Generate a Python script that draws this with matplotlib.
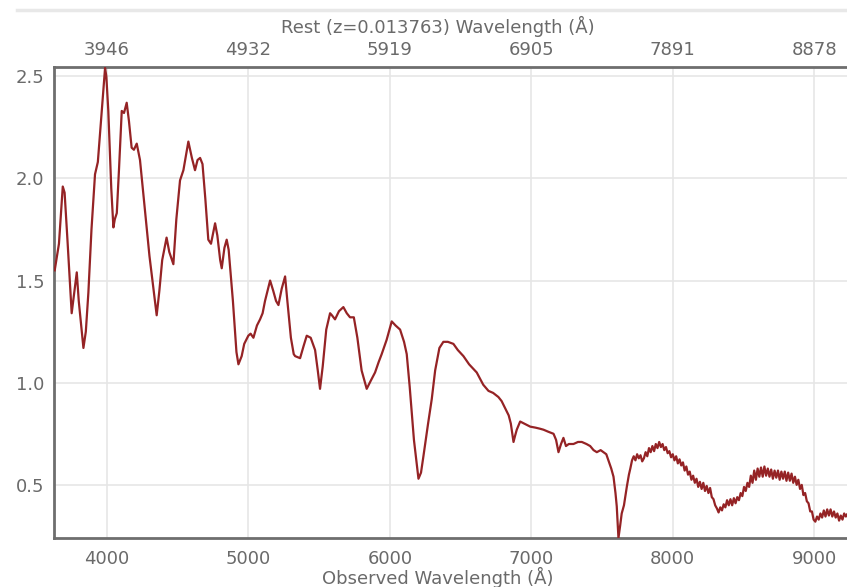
import matplotlib
matplotlib.use("Agg")
import matplotlib.pyplot as plt
from matplotlib.lines import Line2D

# ---- data ----
redshift = 0.013763
obs_ticks = [4000, 5000, 6000, 7000, 8000, 9000]
flux_ticks = [0.5, 1.0, 1.5, 2.0, 2.5]

wavelength = [
    3630, 3660, 3687, 3700, 3720, 3750, 3770, 3786, 3800, 3833, 3850, 3868, 3890, 3915, 3935,
    3972, 3986, 3995, 4009, 4030, 4045, 4055, 4069, 4085, 4104, 4120, 4139, 4155, 4174, 4190,
    4210, 4233, 4260, 4300, 4330, 4351, 4370, 4390, 4421, 4440, 4469, 4490, 4516, 4540, 4560,
    4575, 4600, 4622, 4640, 4658, 4675, 4695, 4716, 4735, 4764, 4780, 4800, 4811, 4830, 4846,
    4860, 4890, 4915, 4929, 4952, 4970, 4999, 5015, 5035, 5060, 5082, 5100, 5117, 5135, 5153,
    5175, 5195, 5212, 5235, 5259, 5275, 5300, 5320, 5330, 5365, 5390, 5412, 5440, 5471, 5490,
    5506, 5525, 5550, 5577, 5590, 5612, 5640, 5671, 5695, 5718, 5745, 5770, 5800, 5836, 5865,
    5895, 5920, 5942, 5977, 6013, 6040, 6072, 6100, 6119, 6140, 6170, 6202, 6220, 6237, 6270,
    6296, 6320, 6350, 6378, 6410, 6449, 6480, 6520, 6560, 6614, 6660, 6697, 6730, 6767, 6790,
    6815, 6840, 6855, 6874, 6885, 6897, 6921, 6950, 6992, 7030, 7060, 7086, 7120, 7157, 7175,
    7192, 7210, 7227, 7245, 7265, 7298, 7330, 7357, 7390, 7416, 7440, 7463, 7490, 7510, 7530,
    7545, 7565, 7581, 7595, 7604, 7616, 7628, 7639, 7655, 7675, 7690,
    7700, 7712, 7724, 7736, 7748, 7760, 7772, 7784, 7796, 7808, 7820, 7832, 7844, 7856, 7868,
    7880, 7892, 7904, 7916, 7928, 7940, 7952, 7964, 7976, 7988, 8000, 8012, 8024, 8036, 8048,
    8060, 8072, 8084, 8096, 8108, 8120, 8132, 8144, 8156, 8168, 8180, 8192, 8204, 8216, 8228,
    8240, 8252, 8264, 8276, 8288, 8300, 8312, 8324, 8336, 8348, 8360, 8372, 8384, 8396, 8408,
    8420, 8432, 8444, 8456, 8468, 8480, 8492, 8504, 8516, 8528, 8540, 8552, 8564, 8576, 8588,
    8600, 8612, 8624, 8636, 8648, 8660, 8672, 8684, 8696, 8708, 8720, 8732, 8744, 8756, 8768,
    8780, 8792, 8804, 8816, 8828, 8840, 8852, 8864, 8876, 8888, 8900, 8912, 8924, 8936, 8948,
    8960, 8972, 8984, 8996, 9008, 9020, 9032, 9044, 9056, 9068, 9080, 9092, 9104, 9116, 9128,
    9140, 9152, 9164, 9176, 9188, 9200, 9212, 9224, 9232,
]

flux = [
    1.55, 1.68, 1.96, 1.93, 1.70, 1.34, 1.45, 1.54, 1.40, 1.17, 1.25, 1.44, 1.75, 2.02, 2.08,
    2.41, 2.54, 2.50, 2.33, 1.95, 1.76, 1.80, 1.83, 2.05, 2.33, 2.32, 2.37, 2.28, 2.15, 2.14,
    2.17, 2.09, 1.90, 1.62, 1.45, 1.33, 1.45, 1.60, 1.71, 1.64, 1.58, 1.80, 1.99, 2.04, 2.12,
    2.18, 2.10, 2.04, 2.09, 2.10, 2.07, 1.90, 1.70, 1.68, 1.78, 1.72, 1.60, 1.56, 1.66, 1.70,
    1.65, 1.40, 1.15, 1.09, 1.13, 1.19, 1.23, 1.24, 1.22, 1.28, 1.31, 1.34, 1.40, 1.45, 1.50,
    1.45, 1.40, 1.38, 1.46, 1.52, 1.40, 1.22, 1.14, 1.13, 1.12, 1.18, 1.23, 1.22, 1.16, 1.06,
    0.97, 1.08, 1.26, 1.34, 1.33, 1.31, 1.35, 1.37, 1.34, 1.32, 1.32, 1.22, 1.06, 0.97, 1.01,
    1.05, 1.10, 1.14, 1.21, 1.30, 1.28, 1.26, 1.20, 1.14, 0.98, 0.72, 0.53, 0.56, 0.64, 0.80,
    0.92, 1.06, 1.17, 1.20, 1.20, 1.19, 1.16, 1.13, 1.09, 1.05, 0.99, 0.96, 0.95, 0.93, 0.91,
    0.875, 0.84, 0.80, 0.71, 0.74, 0.77, 0.81, 0.80, 0.785, 0.78, 0.775, 0.77, 0.76, 0.75, 0.72,
    0.66, 0.70, 0.73, 0.69, 0.70, 0.70, 0.71, 0.71, 0.70, 0.69, 0.67, 0.66, 0.67, 0.66, 0.65,
    0.62, 0.58, 0.54, 0.46, 0.395, 0.24, 0.30, 0.36, 0.40, 0.49, 0.55,
    0.58, 0.62, 0.64, 0.62, 0.65, 0.63, 0.645, 0.615, 0.63, 0.66, 0.64, 0.68, 0.66, 0.69, 0.665,
    0.70, 0.68, 0.71, 0.685, 0.70, 0.67, 0.685, 0.655, 0.665, 0.635, 0.65, 0.62, 0.64, 0.605, 0.625,
    0.595, 0.61, 0.57, 0.59, 0.55, 0.565, 0.525, 0.545, 0.51, 0.53, 0.49, 0.515, 0.48, 0.51, 0.47,
    0.495, 0.46, 0.485, 0.44, 0.43, 0.40, 0.385, 0.365, 0.39, 0.375, 0.405, 0.39, 0.425, 0.40, 0.43,
    0.40, 0.435, 0.41, 0.44, 0.425, 0.46, 0.445, 0.49, 0.47, 0.51, 0.49, 0.545, 0.51, 0.57, 0.525,
    0.58, 0.54, 0.585, 0.54, 0.59, 0.545, 0.58, 0.54, 0.575, 0.53, 0.57, 0.535, 0.57, 0.525, 0.565,
    0.53, 0.565, 0.52, 0.56, 0.52, 0.555, 0.51, 0.54, 0.50, 0.525, 0.48, 0.50, 0.45, 0.46, 0.42,
    0.41, 0.37, 0.37, 0.33, 0.32, 0.345, 0.33, 0.36, 0.34, 0.375, 0.345, 0.38, 0.35, 0.38, 0.345,
    0.37, 0.34, 0.36, 0.325, 0.35, 0.33, 0.36, 0.345, 0.355,
]

# ---- figure ----
W, H = 847, 587
fig = plt.figure(figsize=(W / 100, H / 100), dpi=100)
x0, x1 = 54, 847
y_top, y_bot = 67, 538
ax = fig.add_axes([x0 / W, 1 - y_bot / H, (x1 - x0) / W, (y_bot - y_top) / H])

line_color = "#952325"
ax.plot(wavelength, flux, color=line_color, lw=1.6, solid_joinstyle="round", zorder=3)

ax.set_xlim(3625, 9232)
ax.set_ylim(0.24, 2.545)

grid_c = "#e6e6e6"
ax.set_xticks(obs_ticks)
ax.set_yticks(flux_ticks)
ax.set_yticklabels([f"{v:.1f}" for v in flux_ticks])
ax.grid(True, color=grid_c, lw=1.2, zorder=0)

text_c = "#6a6a6a"
fs = 13
ax.tick_params(axis="both", length=0, labelsize=fs, colors=text_c)
ax.tick_params(axis="x", pad=9)
ax.tick_params(axis="y", pad=7)

spine_c = "#6e6e6e"
for side in ["left", "bottom", "top"]:
    ax.spines[side].set_color(spine_c)
    ax.spines[side].set_linewidth(2.0)
ax.spines["right"].set_visible(False)

# top (rest-frame) axis
ax2 = ax.twiny()
ax2.set_xlim(ax.get_xlim())
ax2.set_xticks(obs_ticks)
ax2.set_xticklabels([f"{round(t / (1 + redshift))}" for t in obs_ticks])
ax2.tick_params(axis="x", length=0, labelsize=fs, colors=text_c, pad=6)
for s in ax2.spines.values():
    s.set_visible(False)

fig.text(438 / W, 1 - 26 / H, f"Rest (z={redshift}) Wavelength (Å)",
         ha="center", va="center", fontsize=fs, color=text_c)
fig.text(438 / W, 1 - 577 / H, "Observed Wavelength (Å)",
         ha="center", va="center", fontsize=fs, color=text_c)

# light separator line at the very top
fig.add_artist(Line2D([17 / W, 1.0], [1 - 10 / H, 1 - 10 / H],
                      transform=fig.transFigure, color="#e8e8e8", lw=2.5))

fig.savefig("out.png", dpi=100)
